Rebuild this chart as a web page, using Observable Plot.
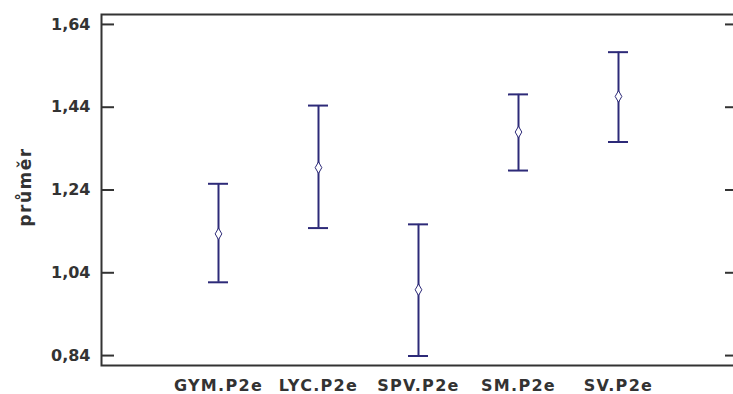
<!DOCTYPE html>
<html><head><meta charset="utf-8">
<script src="https://cdn.jsdelivr.net/npm/d3@7"></script>
<script src="https://cdn.jsdelivr.net/npm/@observablehq/plot@0.6"></script>
<style>
html,body{margin:0;padding:0;background:#fff;overflow:hidden}
#chart{width:733px;height:394px;overflow:hidden}
#chart svg{display:block}
g[aria-label="x-axis tick label"] text{letter-spacing:1.3px}
g.ylab text{letter-spacing:1.5px}
</style></head><body><div id="chart"></div>
<script>
const categories = ["GYM.P2e","LYC.P2e","SPV.P2e","SM.P2e","SV.P2e"];
const means = [1.134,1.294,0.999,1.380,1.466];
const lower = [1.017,1.148,0.839,1.287,1.356];
const upper = [1.255,1.444,1.157,1.471,1.573];
const yTicks = [0.84,1.04,1.24,1.44,1.64];
const yLabel = "průměr";
const yDomain = [0.816, 1.664];

const data = categories.map((c,i)=>({cat:c, mean:means[i], lo:lower[i], hi:upper[i]}));
const color = "#2d2a78";
const ink = "#333";
const fmt = d => d.toFixed(2).replace(".", ",");

const chart = Plot.plot({
  width: 733, height: 394,
  marginLeft: 101, marginRight: 0, marginTop: 14, marginBottom: 29,
  style: {fontFamily: "'DejaVu Sans', sans-serif", fontSize: "16px", fontWeight: "bold", color: ink, background: "#fff", overflow: "visible"},
  x: {domain: categories, type: "band", range: [101, 735], paddingInner: 0.8, paddingOuter: 1.07, label: null},
  y: {domain: yDomain, label: null},
  marks: [
    Plot.frame({stroke: ink, strokeWidth: 2, insetRight: -30}),
    Plot.axisY(yTicks, {anchor: "left", tickSize: -13, tickFormat: () => "", strokeWidth: 2, stroke: ink, label: null}),
    Plot.axisY(yTicks, {anchor: "right", dx: 2, tickSize: -11, tickFormat: () => "", strokeWidth: 2, stroke: ink, label: null}),
    Plot.axisY(yTicks, {anchor: "left", tickSize: 0, tickPadding: 11, tickFormat: fmt, fill: ink, fontSize: 16, fontWeight: "bold", label: null}),
    Plot.axisX({tickSize: 0, tickPadding: 14, fill: ink, fontSize: 16, fontWeight: "bold", label: null}),
    Plot.text([yLabel], {frameAnchor: "left", textAnchor: "middle", dx: -76, dy: -3, rotate: -90, fill: ink, fontSize: 17, fontWeight: "bold", className: "ylab"}),
    Plot.ruleX(data, {x: "cat", y1: "lo", y2: "hi", stroke: color, strokeWidth: 2}),
    Plot.tickY(data, {x: "cat", y: "hi", stroke: color, strokeWidth: 2}),
    Plot.tickY(data, {x: "cat", y: "lo", stroke: color, strokeWidth: 2}),
    Plot.dot(data, {x: "cat", y: "mean", symbol: "diamond", r: 3.5, stroke: color, strokeWidth: 1, fill: "#fff"})
  ]
});
document.getElementById("chart").appendChild(chart);
</script></body></html>
